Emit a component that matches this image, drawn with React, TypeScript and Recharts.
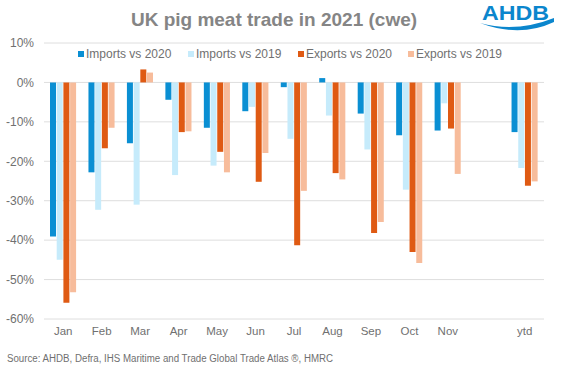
import React from "react";
import { BarChart, Bar, XAxis, YAxis, CartesianGrid } from "recharts";

// Values (% change, cwe)
const months = ["Jan", "Feb", "Mar", "Apr", "May", "Jun", "Jul", "Aug", "Sep", "Oct", "Nov", "", "ytd"];
const imports2020 = [-39.1, -22.8, -15.4, -4.4, -11.5, -7.3, -1.2, 1.1, -7.9, -13.4, -12.2, null, -12.6];
const imports2019 = [-45.0, -32.3, -31.0, -23.5, -21.1, -6.2, -14.3, -8.4, -17.0, -27.2, -5.3, null, -21.7];
const exports2020 = [-55.9, -16.7, 3.3, -12.6, -17.6, -25.2, -41.3, -23.0, -38.2, -43.0, -11.7, null, -26.2];
const exports2019 = [-53.2, -11.5, 2.5, -12.4, -22.8, -17.9, -27.5, -24.6, -35.4, -45.8, -23.2, null, -25.1];
const yTicks = [-60, -50, -40, -30, -20, -10, 0, 10];

const series = [
  { key: "imp20", name: "Imports vs 2020", color: "#0A8FD3" },
  { key: "imp19", name: "Imports vs 2019", color: "#C6EBFB" },
  { key: "exp20", name: "Exports vs 2020", color: "#DF5A13" },
  { key: "exp19", name: "Exports vs 2019", color: "#F7BC9B" },
];

const data = months.map((m, i) => ({
  month: m,
  imp20: imports2020[i],
  imp19: imports2019[i],
  exp20: exports2020[i],
  exp19: exports2019[i],
}));

const FONT = "'Liberation Sans', Arial, sans-serif";
const GREY = "#707070";

export default function App() {
  return (
    <div style={{ position: "absolute", left: 0, top: 0, width: 568, height: 371, background: "#fff", fontFamily: FONT }}>
      <BarChart
        width={568}
        height={371}
        data={data}
        margin={{ top: 43, right: 24, left: 0, bottom: 22 }}
        barSize={6}
        barGap={0.7}
      >
        <CartesianGrid vertical={false} stroke="#DEDEDE" />
        <XAxis
          dataKey="month"
          axisLine={false}
          tickLine={false}
          tickSize={0}
          tickMargin={8}
          height={30}
          interval={0}
          tick={{ fill: GREY, fontSize: 11.5, fontFamily: FONT }}
        />
        <YAxis
          domain={[-60, 10]}
          ticks={yTicks}
          width={44}
          axisLine={false}
          tickLine={false}
          tickSize={0}
          tickMargin={10}
          tickFormatter={(v) => `${v}%`}
          tick={{ fill: GREY, fontSize: 12, fontFamily: FONT }}
        />
        {series.map((s) => (
          <Bar key={s.key} dataKey={s.key} name={s.name} fill={s.color} isAnimationActive={false} />
        ))}
      </BarChart>

      {/* legend */}
      <div style={{ position: "absolute", left: 78, top: 47, display: "flex", fontSize: 12, lineHeight: "14px", color: GREY }}>
        {series.map((s) => (
          <div key={s.key} style={{ width: 110, display: "flex", alignItems: "center" }}>
            <span style={{ width: 6, height: 6, background: s.color, marginRight: 2, display: "inline-block" }} />
            <span>{s.name}</span>
          </div>
        ))}
      </div>

      {/* title, logo, source */}
      <svg width={568} height={371} style={{ position: "absolute", left: 0, top: 0, pointerEvents: "none" }}>
        <text x={274} y={26} textAnchor="middle" fontSize={19} fontWeight="bold" fill="#858585" fontFamily={FONT}>
          UK pig meat trade in 2021 (cwe)
        </text>
        <text x={482} y={19.5} fontSize={21} fontWeight="bold" fill="#0B86CD" fontFamily={FONT} textLength={67} lengthAdjust="spacingAndGlyphs">
          AHDB
        </text>
        <path d="M480,23 Q516,33 554,18 L554,22 Q520,38 480,23 Z" fill="#0B86CD" />
        <text x={7} y={361.5} fontSize={10} fill={GREY} fontFamily={FONT} textLength={326} lengthAdjust="spacingAndGlyphs">
          Source: AHDB, Defra, IHS Maritime and Trade Global Trade Atlas ®, HMRC
        </text>
      </svg>
    </div>
  );
}
